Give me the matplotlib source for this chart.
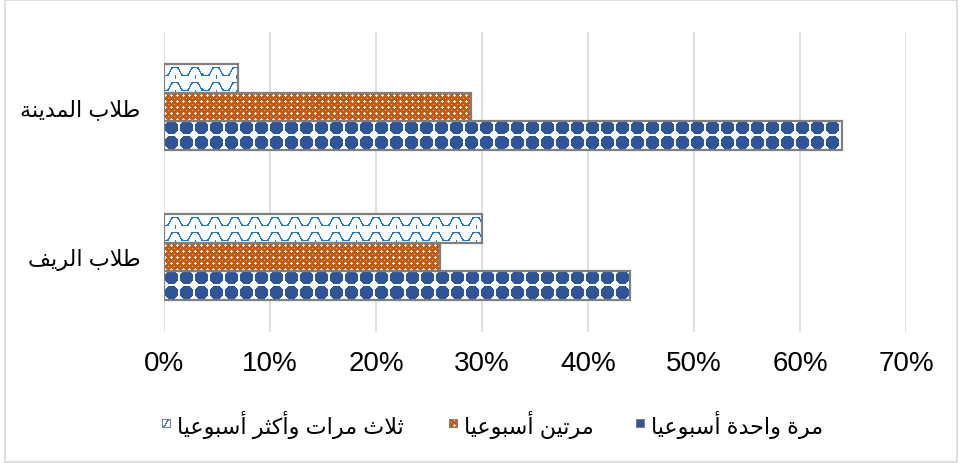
import numpy as np
from matplotlib import pyplot as plt
from matplotlib.patches import Rectangle

plt.rcParams['font.family'] = ['Liberation Sans', 'DejaVu Sans']

# data (percent of students)
categories = ['طلاب الريف', 'طلاب المدينة']
series_names = ['مرة واحدة أسبوعيا', 'مرتين أسبوعيا', 'ثلاث مرات وأكثر أسبوعيا']
once_weekly = [44, 64]
twice_weekly = [26, 29]
three_plus = [30, 7]
xticks = [0, 10, 20, 30, 40, 50, 60, 70]

W, H = 959, 464

# arabic presentation forms: isolated, final, initial, medial
FORMS = {
    'ا': (0xFE8D, 0xFE8E), 'أ': (0xFE83, 0xFE84), 'ة': (0xFE93, 0xFE94),
    'د': (0xFEA9, 0xFEAA), 'ر': (0xFEAD, 0xFEAE), 'و': (0xFEED, 0xFEEE),
    'ب': (0xFE8F, 0xFE90, 0xFE91, 0xFE92), 'ت': (0xFE95, 0xFE96, 0xFE97, 0xFE98),
    'ث': (0xFE99, 0xFE9A, 0xFE9B, 0xFE9C), 'ح': (0xFEA1, 0xFEA2, 0xFEA3, 0xFEA4),
    'س': (0xFEB1, 0xFEB2, 0xFEB3, 0xFEB4), 'ط': (0xFEC1, 0xFEC2, 0xFEC3, 0xFEC4),
    'ع': (0xFEC9, 0xFECA, 0xFECB, 0xFECC), 'ف': (0xFED1, 0xFED2, 0xFED3, 0xFED4),
    'ك': (0xFED9, 0xFEDA, 0xFEDB, 0xFEDC), 'ل': (0xFEDD, 0xFEDE, 0xFEDF, 0xFEE0),
    'م': (0xFEE1, 0xFEE2, 0xFEE3, 0xFEE4), 'ن': (0xFEE5, 0xFEE6, 0xFEE7, 0xFEE8),
    'ي': (0xFEF1, 0xFEF2, 0xFEF3, 0xFEF4),
}
LAM_ALEF = {'ا': (0xFEFB, 0xFEFC), 'أ': (0xFEF7, 0xFEF8)}


def dual(c):
    return c in FORMS and len(FORMS[c]) == 4


def shape(text):
    """ join arabic letters and put them in visual order """
    out = []
    i, n = 0, len(text)
    while i < n:
        c = text[i]
        if c not in FORMS:
            out.append(c)
            i += 1
            continue
        joins_prev = i > 0 and dual(text[i - 1])
        if c == 'ل' and i + 1 < n and text[i + 1] in LAM_ALEF:
            iso, fin = LAM_ALEF[text[i + 1]]
            out.append(chr(fin if joins_prev else iso))
            i += 2
            continue
        joins_next = dual(c) and i + 1 < n and text[i + 1] in FORMS
        f = FORMS[c]
        if joins_prev and joins_next:
            g = f[3]
        elif joins_next:
            g = f[2]
        elif joins_prev:
            g = f[1]
        else:
            g = f[0]
        out.append(chr(g))
        i += 1
    return ''.join(reversed(out))


def hexrgb(h):
    return np.array([int(h[k:k + 2], 16) for k in (1, 3, 5)]) / 255.0


BLUE = hexrgb('#2f5597')
ORANGE = hexrgb('#c55a11')
LIGHT_ORANGE = hexrgb('#eeb088')
WAVE = hexrgb('#1f78c8')
WHITE = np.ones(3)


def pat_blobs(cx, ry):
    u = np.abs((cx - 164) % 15 - 7)
    v = np.abs((ry + 1) % 15 - 7)
    mask = (u + v <= 9) & (np.maximum(u, v) <= 6)
    return np.where(mask[..., None], BLUE, WHITE)


def pat_dots(cx, ry):
    u = cx % 6
    v = ry % 6
    white = ((u == 3) & (np.abs(v - 3) <= 1)) | ((v == 3) & (np.abs(u - 3) <= 1))
    light = (u == 0) & (v == 0)
    img = np.where(white[..., None], WHITE, ORANGE)
    img = np.where(light[..., None], LIGHT_ORANGE, img)
    return img


def wave_y(x):
    s = np.clip(1.5 * np.sin(2 * np.pi * x / 20), -1, 1)
    return 4.0 * s


def pat_waves(cx, ry):
    x = cx.astype(float)
    y = (ry % 15).astype(float)
    ya, yb = wave_y(x), wave_y(x + 1)
    lo, hi = np.minimum(ya, yb) - 0.6, np.maximum(ya, yb) + 0.6
    mask = (y >= 7 + lo) & (y <= 7 + hi)
    # short ticks hanging off each crest, like the interlocking tiles
    tick = ((cx % 20) == 15) & (y >= 11) & (y <= 14)
    mask |= tick
    return np.where(mask[..., None], WAVE, WHITE)


fig = plt.figure(figsize=(W / 100, H / 100), dpi=100)
ax = fig.add_axes([164 / W, 131 / H, 742 / W, 300 / H])
ax.set_xlim(0, 70)
ax.set_ylim(0, 2)

ypos = np.array([0.5, 1.5])
bh = 0.193
series = [(once_weekly, -bh, pat_blobs), (twice_weekly, 0, pat_dots), (three_plus, bh, pat_waves)]

for vals, off, pat in series:
    bars = ax.barh(ypos + off, vals, height=bh, facecolor='none',
                   edgecolor='#7f7f7f', linewidth=1.6, zorder=3)
    for rect in bars:
        x0, y0 = rect.get_x(), rect.get_y()
        x1, y1 = x0 + rect.get_width(), y0 + rect.get_height()
        (px0, py0), (px1, py1) = ax.transData.transform([(x0, y0), (x1, y1)])
        w = max(int(round(px1 - px0)), 1)
        h = max(int(round(py1 - py0)), 1)
        cx = (np.arange(w) + int(round(px0)))[None, :]
        ry = np.arange(h)[:, None]
        img = pat(np.broadcast_to(cx, (h, w)), np.broadcast_to(ry, (h, w)))
        ax.imshow(img, extent=(x0, x1, y0, y1), interpolation='nearest',
                  aspect='auto', zorder=2)

ax.set_xlim(0, 70)
ax.set_ylim(0, 2)
ax.set_xticks(xticks)
ax.set_xticklabels([f'{v}%' for v in xticks], fontsize=20)
ax.set_yticks(ypos)
ax.set_yticklabels([shape(c) for c in categories], fontsize=16)
ax.tick_params(axis='x', length=0, pad=13)
ax.tick_params(axis='y', length=0, pad=17)
ax.grid(axis='x', color='#d9d9d9', linewidth=1.2)
ax.set_axisbelow(True)
for s in ax.spines.values():
    s.set_visible(False)

# legend, drawn by hand: small patterned squares with the labels to their right
legend_x = [636, 449, 162]
for (vals, off, pat), name, mx in zip(series, series_names, legend_x):
    n = 9
    cx = np.broadcast_to(np.arange(n)[None, :] + 166, (n, n))
    ry = np.broadcast_to(np.arange(n)[:, None] + 3, (n, n))
    img = pat(cx, ry).copy()
    img[0, :] = img[-1, :] = img[:, 0] = img[:, -1] = hexrgb('#7f7f7f')
    fig.figimage(img, xo=mx, yo=H - 425 - 4, origin='upper', zorder=5)
    fig.text((mx + 15) / W, (H - 425) / H, shape(name), fontsize=16,
             ha='left', va='center')

fig.add_artist(Rectangle((5 / W, 1 / H), 952 / W, 462 / H, transform=fig.transFigure,
                         fill=False, edgecolor='#d9d9d9', linewidth=1.2))

fig.savefig('out.png', dpi=100)
